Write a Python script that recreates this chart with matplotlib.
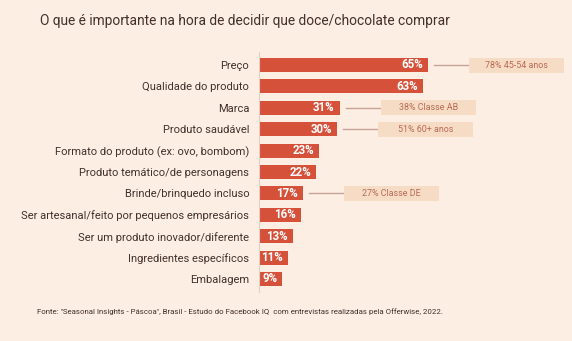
import matplotlib
matplotlib.use("Agg")
import matplotlib.pyplot as plt
from matplotlib.patches import Rectangle

categories = ["Preço", "Qualidade do produto", "Marca", "Produto saudável",
              "Formato do produto (ex: ovo, bombom)", "Produto temático/de personagens",
              "Brinde/brinquedo incluso", "Ser artesanal/feito por pequenos empresários",
              "Ser um produto inovador/diferente", "Ingredientes específicos", "Embalagem"]
values = [65, 63, 31, 30, 23, 22, 17, 16, 13, 11, 9]
highlights = {0: "78% 45-54 anos", 2: "38% Classe AB", 3: "51% 60+ anos", 6: "27% Classe DE"}

title = "O que é importante na hora de decidir que doce/chocolate comprar"
source = ("Fonte: \"Seasonal Insights - Páscoa\", Brasil - Estudo do Facebook IQ  com entrevistas "
          "realizadas pela Offerwise, 2022.")

BG = "#fdeee3"
BAR = "#d6513a"
TXT = "#43302c"
BOX = "#f6dcc4"
BOXTXT = "#b86a55"
LINE = "#c9a39a"

plt.rcParams['font.family'] = ['Roboto', 'DejaVu Sans']
W, H = 572, 341
fig = plt.figure(figsize=(W/100, H/100), dpi=100, facecolor=BG)

x0 = 259
ax = fig.add_axes([x0/W, 0, (W-x0)/W, 1])
ax.set_facecolor("none")
pxper = 2.6
ax.set_xlim(0, (W-x0)/pxper)
step = 21.4
top = 65
ax.set_ylim((H-top)/step, -top/step)

ys = list(range(len(values)))
ax.barh(ys, values, height=14/step, color=BAR, zorder=2)
for y, v in zip(ys, values):
    ax.text(v - 5/pxper, y, f"{v}%", color="white", fontsize=8.3, fontweight="bold",
            ha="right", va="center", zorder=3)
for i, lab in highlights.items():
    v = values[i]
    ls = v + 6/pxper
    le = ls + 35/pxper
    bw = 95/pxper
    ax.plot([ls, le], [i, i], color=LINE, lw=1, zorder=2)
    ax.add_patch(Rectangle((le, i - 7.5/step), bw, 15/step, facecolor=BOX,
                           edgecolor="none", zorder=2))
    ax.text(le + bw/2, i, lab, color=BOXTXT, fontsize=6.4, ha="center", va="center", zorder=3)

ax.set_yticks(ys)
ax.set_yticklabels(categories, fontsize=8.0, color=TXT)
ax.tick_params(axis="y", length=0, pad=7)
ax.set_xticks([])
for s in ["top", "right", "bottom"]:
    ax.spines[s].set_visible(False)
ax.spines["left"].set_color("#e2cfc6")
ax.spines["left"].set_bounds(-0.6, 10.6)
ax.spines["left"].set_linewidth(0.8)

fig.text(40/W, 1 - 20.5/H, title, fontsize=9.9, color=TXT, ha="left", va="center")
fig.text(37/W, 1 - 312/H, source, fontsize=5.65, color=TXT, ha="left", va="center")

fig.savefig("out.png", dpi=100, facecolor=BG)
